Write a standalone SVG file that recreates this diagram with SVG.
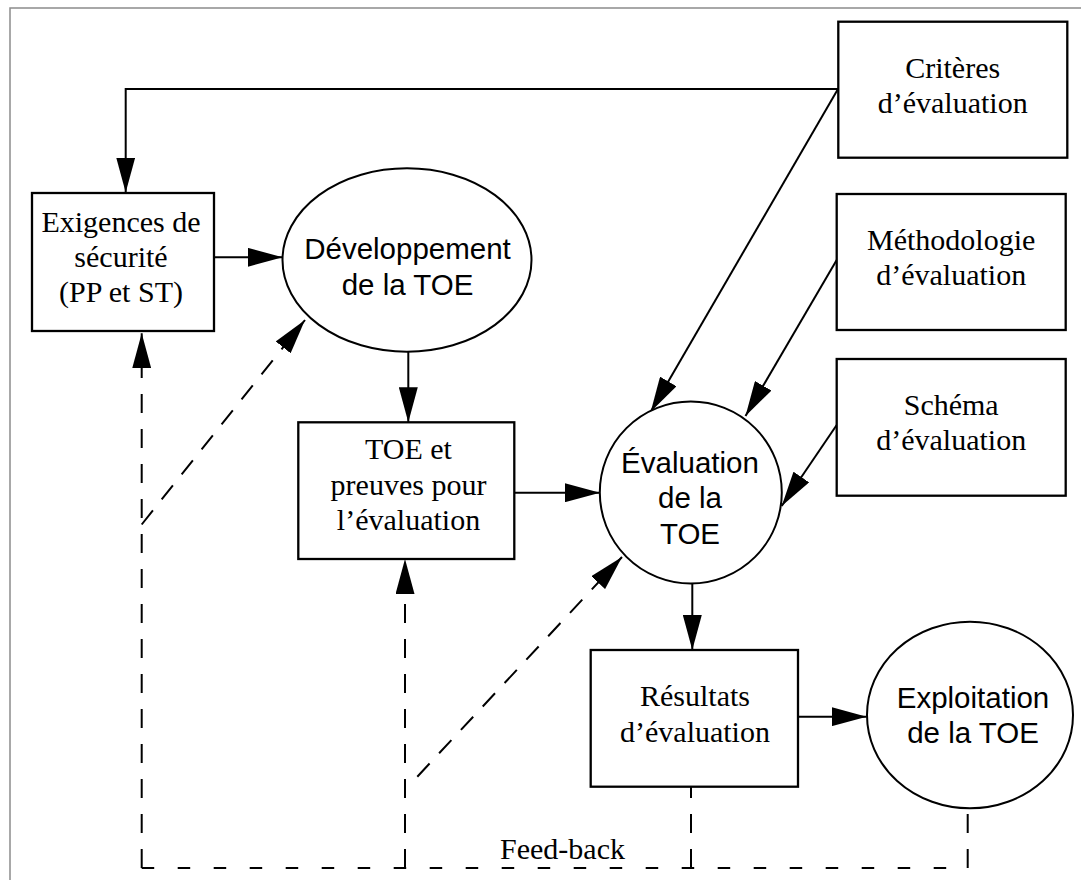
<svg xmlns="http://www.w3.org/2000/svg" width="1081" height="880" viewBox="0 0 1081 880">
  <style>
    .frame { fill: none; stroke: #8c8c8c; stroke-width: 1.5; }
    .box { fill: #ffffff; stroke: #000000; stroke-width: 2.3; }
    .oval { fill: #ffffff; stroke: #000000; stroke-width: 2; }
    .serif { font-family: "Liberation Serif", "Times New Roman", serif; font-size: 30px; fill: #000000; text-anchor: middle; }
    .sans { font-family: "Liberation Sans", Arial, sans-serif; font-size: 29.5px; fill: #000000; text-anchor: middle; }
    .flow { fill: none; stroke: #000000; stroke-width: 2; marker-end: url(#head); }
    .plain { fill: none; stroke: #000000; stroke-width: 2; }
    .dv { stroke-dasharray: 19 16; }
    .dh { stroke-dasharray: 12.5 23.5; }
    .dd { stroke-dasharray: 18 14; }
  </style>
  <defs>
    <marker id="head" markerUnits="userSpaceOnUse" markerWidth="35" markerHeight="19" refX="35" refY="9.5" orient="auto">
      <path d="M0,0 L35,9.5 L0,19 Z" fill="#000000"/>
    </marker>
  </defs>

  <rect width="1081" height="880" fill="#ffffff"/>
  <rect class="frame" x="10" y="8" width="1100" height="900"/>

  <!-- connectors -->
  <g id="connectors">
    <path class="flow" d="M838,89 H125.7 V192.5"/>
    <path class="flow" d="M838,89 L650.7,411.7"/>
    <path class="flow" d="M836.7,260 L745.5,416"/>
    <path class="flow" d="M836.7,425 L781.7,506"/>
    <path class="flow" d="M214,257.3 H282.7"/>
    <path class="flow" d="M408.3,351.7 V422.3"/>
    <path class="flow" d="M514.3,492.7 H600"/>
    <path class="flow" d="M692.3,583.5 V650"/>
    <path class="flow" d="M798,716.7 H866.7"/>

    <!-- feed-back loop (dashed) -->
    <path class="flow dv" d="M141.7,868 V333.3"/>
    <path class="flow dd" d="M141.7,524.5 L305,320"/>
    <path class="flow dv" d="M405,868 V559"/>
    <path class="flow dd" d="M417.3,776.7 L622,557"/>
    <path class="plain dh" d="M141.7,868 H967.7"/>
    <path class="plain dv" d="M691,868 V786.7"/>
    <path class="plain dv" d="M967.7,868 V808.3"/>
    <text class="serif" x="562.5" y="859">Feed-back</text>
  </g>

  <g id="exigences">
    <rect class="box" x="32" y="193" width="182" height="138"/>
    <text class="serif" x="121" y="231.7">Exigences de</text>
    <text class="serif" x="121" y="266.7">sécurité</text>
    <text class="serif" x="121" y="301.7">(PP et ST)</text>
  </g>

  <g id="developpement">
    <ellipse class="oval" cx="407" cy="260" rx="124.5" ry="91.7"/>
    <text class="sans" x="407.5" y="259.3">Développement</text>
    <text class="sans" x="407.5" y="295">de la TOE</text>
  </g>

  <g id="toe-preuves">
    <rect class="box" x="298.3" y="422.3" width="216" height="136.7"/>
    <text class="serif" x="408.5" y="459.3">TOE et</text>
    <text class="serif" x="408.5" y="495">preuves pour</text>
    <text class="serif" x="408.5" y="530">l’évaluation</text>
  </g>

  <g id="evaluation">
    <circle class="oval" cx="690.8" cy="492.5" r="91"/>
    <text class="sans" x="690" y="473.3">Évaluation</text>
    <text class="sans" x="690" y="508.3">de la</text>
    <text class="sans" x="690" y="544">TOE</text>
  </g>

  <g id="resultats">
    <rect class="box" x="590.7" y="650" width="207.3" height="136.7"/>
    <text class="serif" x="695" y="706">Résultats</text>
    <text class="serif" x="695" y="741.7">d’évaluation</text>
  </g>

  <g id="exploitation">
    <ellipse class="oval" cx="970" cy="715" rx="103" ry="93.3"/>
    <text class="sans" x="973" y="708.3">Exploitation</text>
    <text class="sans" x="973" y="743.3">de la TOE</text>
  </g>

  <g id="criteres">
    <rect class="box" x="838.3" y="21.7" width="229" height="136"/>
    <text class="serif" x="952.7" y="78.3">Critères</text>
    <text class="serif" x="952.7" y="113.3">d’évaluation</text>
  </g>

  <g id="methodologie">
    <rect class="box" x="836.7" y="194" width="229" height="136"/>
    <text class="serif" x="951.2" y="250">Méthodologie</text>
    <text class="serif" x="951.2" y="285">d’évaluation</text>
  </g>

  <g id="schema">
    <rect class="box" x="836.7" y="359" width="229" height="136.7"/>
    <text class="serif" x="951.2" y="415">Schéma</text>
    <text class="serif" x="951.2" y="450">d’évaluation</text>
  </g>
</svg>
